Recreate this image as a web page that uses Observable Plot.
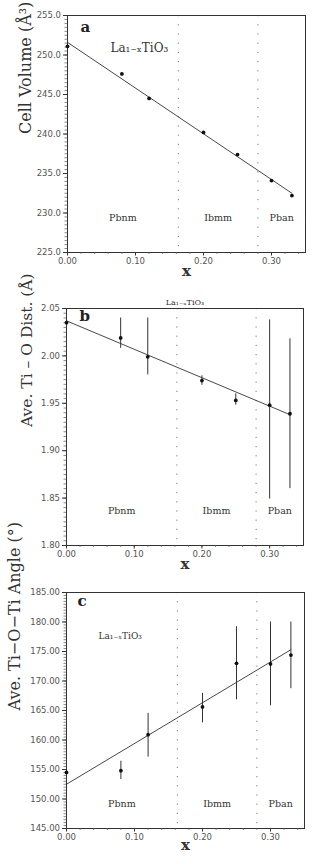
<!DOCTYPE html>
<html><head><meta charset="utf-8">
<script src="https://cdn.jsdelivr.net/npm/d3@7"></script>
<script src="https://cdn.jsdelivr.net/npm/@observablehq/plot@0.6"></script>
<style>
html,body{margin:0;padding:0;background:#fff;}
#root{width:326px;}
#root svg{display:block;}
</style></head><body><div id="root"></div>
<script>
// ---- data ----
const xVals = [0, 0.08, 0.12, 0.20, 0.25, 0.30, 0.33];
const xTicks = [0, 0.1, 0.2, 0.3];
const phaseBounds = [0.163, 0.28];
const phaseNames = ["Pbnm", "Ibmm", "Pban"];
const compound = "La₁₋ₓTiO₃";

// (a) cell volume
const volume = [251.1, 247.6, 244.5, 240.2, 237.4, 234.1, 232.2];
const volumeFit = [251.6, 232.5];
const volumeTicks = [225, 230, 235, 240, 245, 250, 255];

// (b) average Ti-O distance
const dist = [2.035, 2.019, 1.999, 1.974, 1.953, 1.948, 1.939];
const distLo = [null, 2.008, 1.980, 1.969, 1.948, 1.849, 1.860];
const distHi = [null, 2.040, 2.040, 1.979, 1.960, 2.038, 2.018];
const distFit = [2.037, 1.938];
const distTicks = [1.80, 1.85, 1.90, 1.95, 2.00, 2.05];

// (c) average Ti-O-Ti angle
const angle = [154.5, 154.8, 160.9, 165.6, 173.0, 172.9, 174.4];
const angleLo = [null, 153.3, 157.1, 162.9, 166.8, 165.8, 168.7];
const angleHi = [null, 156.4, 164.5, 167.9, 179.2, 180.0, 180.0];
const angleFit = [152.5, 175.3];
const angleTicks = [145, 150, 155, 160, 165, 170, 175, 180, 185];

const fitX = [0, 0.33];
const xDomain = [0, 0.35];

const SERIF = "DejaVu Serif";
const SANS = "DejaVu Sans";

function panel(o) {
  const pts = xVals.map((x, i) => ({x, y: o.y[i], lo: o.lo ? o.lo[i] : null, hi: o.hi ? o.hi[i] : null}));
  const bars = pts.filter(d => d.lo != null);
  const fit = fitX.map((x, i) => ({x, y: o.fit[i]}));
  const edges = [xDomain[0], ...phaseBounds, xDomain[1]];
  const phases = phaseNames.map((n, i) => ({n, x: (edges[i] + edges[i + 1]) / 2}));
  const [y0, y1] = o.yDomain;
  const yMinor = d3.range(0, Math.round((y1 - y0) / o.yMinorStep) + 1).map(k => y0 + k * o.yMinorStep);
  const xMinor = d3.range(0, 36, 2).map(k => k / 100);
  const marks = [
    Plot.ruleX(phaseBounds, {stroke: "#777", strokeDasharray: "1.2,8", strokeWidth: 1}),
    Plot.frame({stroke: "#333", strokeWidth: 1}),
    Plot.axisY(yMinor, {tickSize: 2.5, text: null, stroke: "#555", strokeWidth: 0.7, label: null}),
    Plot.axisY(o.yTicks, {tickSize: 4, tickPadding: 2.5, tickFormat: o.yFmt, fontSize: 8.5, fontFamily: SANS, fill: "#555", stroke: "#333", label: null}),
    Plot.axisX(xMinor, {tickSize: 2, text: null, stroke: "#555", strokeWidth: 0.7, label: null}),
    Plot.axisX(xTicks, {tickSize: 3.5, tickPadding: 2, tickFormat: d3.format(".2f"), fontSize: 8.5, fontFamily: SANS, fill: "#555", stroke: "#333", label: null}),
    Plot.line(fit, {x: "x", y: "y", stroke: "#333", strokeWidth: 0.9}),
    Plot.ruleX(bars, {x: "x", y1: "lo", y2: "hi", stroke: "#333", strokeWidth: 1}),
    Plot.dot(pts, {x: "x", y: "y", r: 1.9, fill: "#111", stroke: null}),
    Plot.text(phases, {x: "x", text: "n", frameAnchor: "bottom", dy: o.phaseDy, fontSize: 9.5, fontFamily: SERIF, fill: "#333"}),
    Plot.text([o.letter], {frameAnchor: "top-left", dx: o.letterDx, dy: o.letterDy, textAnchor: "start", lineAnchor: "top", fontSize: 15, fontWeight: "bold", fontFamily: SERIF, fill: "#222"}),
    Plot.text([o.yLabel], {frameAnchor: "left", rotate: -90, dx: o.yLabelDx, fontSize: o.yLabelSize, fontFamily: SERIF, fill: "#333"}),
    Plot.text(["x"], {frameAnchor: "bottom", dy: o.xLabelDy, fontSize: 15, fontWeight: "bold", fontFamily: SERIF, fill: "#333"}),
    ...o.extra
  ];
  return Plot.plot({
    width: 326, height: o.height,
    marginTop: o.mt, marginBottom: o.mb, marginLeft: o.ml, marginRight: o.mr,
    style: {background: "#fff", color: "#333", overflow: "visible"},
    x: {domain: xDomain, axis: null},
    y: {domain: o.yDomain, axis: null},
    marks
  });
}

const root = document.getElementById("root");

root.appendChild(panel({
  y: volume, fit: volumeFit, yDomain: [225, 255], yTicks: volumeTicks, yFmt: d3.format(".1f"), yMinorStep: 0.5,
  yLabel: "Cell Volume (Å³)", yLabelDx: -42, yLabelSize: 16,
  height: 290, mt: 15, mb: 38, ml: 67, mr: 21,
  letter: "a", letterDx: 13, letterDy: 6, phaseDy: -32, xLabelDy: 23,
  extra: [Plot.text([compound], {frameAnchor: "top-left", dx: 43, dy: 28, textAnchor: "start", fontSize: 12, fontFamily: SERIF, fill: "#333"})]
}));

root.appendChild(panel({
  y: dist, lo: distLo, hi: distHi, fit: distFit, yDomain: [1.80, 2.05], yTicks: distTicks, yFmt: d3.format(".2f"), yMinorStep: 0.005,
  yLabel: "Ave. Ti – O Dist. (Å)", yLabelDx: -39, yLabelSize: 15.5,
  height: 290, mt: 18, mb: 35, ml: 66, mr: 23,
  letter: "b", letterDx: 13, letterDy: 2, phaseDy: -32, xLabelDy: 23,
  extra: [Plot.text([compound], {frameAnchor: "top", dy: -9, fontSize: 8, fontFamily: SERIF, fill: "#333"})]
}));

root.appendChild(panel({
  y: angle, lo: angleLo, hi: angleHi, fit: angleFit, yDomain: [145, 185], yTicks: angleTicks, yFmt: d3.format(".2f"), yMinorStep: 0.5,
  yLabel: "Ave. Ti−O−Ti Angle (°)", yLabelDx: -52, yLabelSize: 16,
  height: 284, mt: 12, mb: 36, ml: 66, mr: 22,
  letter: "c", letterDx: 11, letterDy: 3, phaseDy: -22, xLabelDy: 21,
  extra: [Plot.text([compound], {frameAnchor: "top-left", dx: 32, dy: 40, textAnchor: "start", fontSize: 9, fontFamily: SERIF, fill: "#333"})]
}));
</script></body></html>
